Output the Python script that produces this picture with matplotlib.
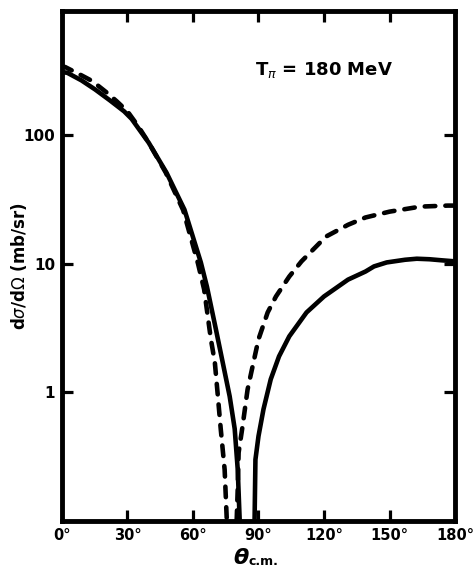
import matplotlib
matplotlib.use("Agg")
import matplotlib.pyplot as plt
from matplotlib.ticker import NullLocator, FixedLocator

# valeurs (angle en degres, section efficace en mb/sr)
# - courbe pleine, branche gauche puis droite
theta_plein_g = [0, 2.5, 8.9, 15.2, 22, 28.5, 31.9, 39.7, 47.9, 56.1, 63.6, 66.4, 70.5, 73.6, 76.8, 79.1, 80.5, 81.4]
sigma_plein_g = [308, 303, 265, 225, 185, 152, 133, 87, 50.7, 26.2, 10.2, 6.6, 3.08, 1.71, 0.93, 0.52, 0.25, 0.1]

theta_plein_d = [88.2, 88.6, 90.0, 92.3, 95.6, 99.4, 104.1, 112, 120, 131, 139, 142.9, 148.7, 157.1, 162.5, 168.3, 173.8, 180]
sigma_plein_d = [0.1, 0.3, 0.456, 0.74, 1.26, 1.90, 2.72, 4.17, 5.55, 7.5, 8.67, 9.5, 10.2, 10.7, 10.9, 10.8, 10.6, 10.4]

# - courbe en tirets, branche gauche puis droite
theta_tiret_g = [0, 1.5, 8.9, 13.8, 20.2, 25.1, 30, 35, 39.7, 47.5, 55.5, 62.3, 65.1, 68.2, 70.0, 71.4, 72.7, 74.5, 75.5]
sigma_tiret_g = [340, 336, 290, 262, 215, 182, 152, 116, 87, 51, 26, 10, 6.3, 2.58, 1.71, 0.93, 0.52, 0.25, 0.1]

theta_tiret_d = [80.0, 80.5, 80.9, 82.7, 85.0, 87.3, 90.0, 94.2, 98.0, 104.1, 109.7, 120.9, 131, 139, 150, 164.2, 176.7, 180]
sigma_tiret_d = [0.1, 0.18, 0.34, 0.545, 1.05, 1.59, 2.58, 4.17, 5.55, 7.93, 10.4, 16.2, 20, 22.8, 25.3, 27.7, 28.2, 28.2]

x_ticks = [0, 30, 60, 90, 120, 150, 180]
x_labels = ["0°", "30°", "60°", "90°", "120°", "150°", "180°"]
y_ticks = [1, 10, 100]
y_labels = ["1", "10", "100"]

fig = plt.figure(figsize=(4.73, 5.71), dpi=100)
ax = fig.add_axes([0.131, 0.0876, 0.831, 0.893])

ax.plot(theta_plein_g, sigma_plein_g, color="black", lw=3.3, solid_capstyle="butt")
ax.plot(theta_plein_d, sigma_plein_d, color="black", lw=3.3, solid_capstyle="butt")
ax.plot(theta_tiret_g, sigma_tiret_g, color="black", lw=3.3, dashes=(2.3, 2.2), dash_capstyle="round")
ax.plot(theta_tiret_d, sigma_tiret_d, color="black", lw=3.3, dashes=(2.3, 2.2), dash_capstyle="round")

ax.set_yscale("log")
ax.set_xlim(0, 180)
ax.set_ylim(0.1, 915)

ax.xaxis.set_major_locator(FixedLocator(x_ticks))
ax.set_xticklabels(x_labels, fontsize=10.5, fontweight="bold")
ax.yaxis.set_major_locator(FixedLocator(y_ticks))
ax.yaxis.set_minor_locator(NullLocator())
ax.set_yticklabels(y_labels, fontsize=11, fontweight="bold")

ax.tick_params(axis="both", direction="in", length=8, width=2.3, top=True, right=True, pad=5)

for s in ax.spines.values():
    s.set_linewidth(3.5)

ax.set_ylabel(r"d$\sigma$/d$\Omega$ (mb/sr)", fontsize=12, fontweight="bold")
ax.yaxis.set_label_coords(-0.085, 0.5)

# titre de l'axe x : theta avec indice c.m.
ax.text(0.455, -0.072, "θ", transform=ax.transAxes, fontsize=16, fontweight="bold",
        style="italic", ha="center", va="center")
ax.text(0.475, -0.08, "c.m.", transform=ax.transAxes, fontsize=9, fontweight="bold",
        ha="left", va="center")

ax.text(0.49, 0.875, r"T$_\pi$ = 180 MeV", transform=ax.transAxes, fontsize=13, fontweight="bold")

fig.savefig("out.png", dpi=100)
